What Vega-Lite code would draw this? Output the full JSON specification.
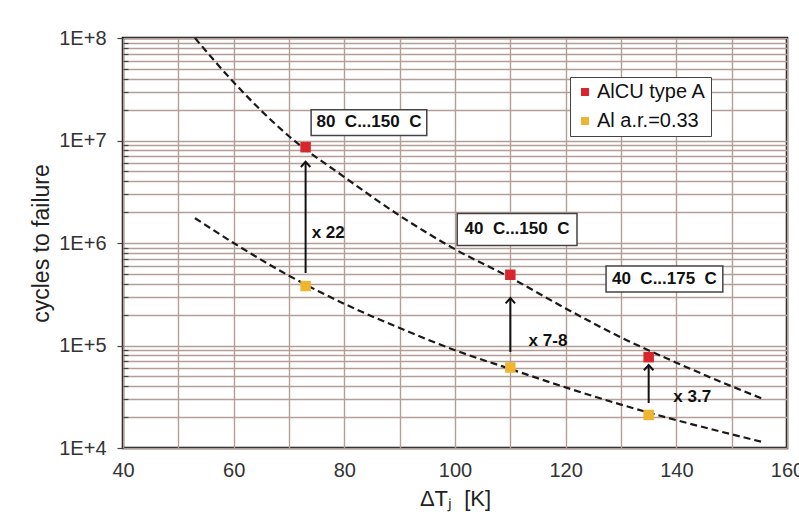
{
  "$schema": "https://vega.github.io/schema/vega-lite/v6.json",
  "width": 664,
  "height": 410,
  "autosize": {"type": "none"},
  "padding": {"left": 123, "top": 38, "right": 12, "bottom": 80},
  "background": "white",
  "datasets": {
    "curves": [
      {"curve": "upper", "dT": 53, "N": 100000000},
      {"curve": "upper", "dT": 60, "N": 37000000},
      {"curve": "upper", "dT": 70, "N": 11000000},
      {"curve": "upper", "dT": 80, "N": 4400000},
      {"curve": "upper", "dT": 90, "N": 1850000},
      {"curve": "upper", "dT": 100, "N": 870000},
      {"curve": "upper", "dT": 110, "N": 460000},
      {"curve": "upper", "dT": 120, "N": 230000},
      {"curve": "upper", "dT": 130, "N": 120000},
      {"curve": "upper", "dT": 140, "N": 68000},
      {"curve": "upper", "dT": 150, "N": 40000},
      {"curve": "upper", "dT": 155.4, "N": 30500},
      {"curve": "lower", "dT": 53, "N": 1750000},
      {"curve": "lower", "dT": 60, "N": 1000000},
      {"curve": "lower", "dT": 70, "N": 480000},
      {"curve": "lower", "dT": 80, "N": 255000},
      {"curve": "lower", "dT": 90, "N": 148000},
      {"curve": "lower", "dT": 100, "N": 90000},
      {"curve": "lower", "dT": 110, "N": 59000},
      {"curve": "lower", "dT": 120, "N": 39000},
      {"curve": "lower", "dT": 130, "N": 26500},
      {"curve": "lower", "dT": 140, "N": 18700},
      {"curve": "lower", "dT": 150, "N": 13600},
      {"curve": "lower", "dT": 155.4, "N": 11500}
    ],
    "points": [
      {"series": "AlCU type A", "dT": 73, "N": 8600000},
      {"series": "AlCU type A", "dT": 110, "N": 490000},
      {"series": "AlCU type A", "dT": 135, "N": 77000},
      {"series": "Al a.r.=0.33", "dT": 73, "N": 380000},
      {"series": "Al a.r.=0.33", "dT": 110, "N": 61000},
      {"series": "Al a.r.=0.33", "dT": 135, "N": 21000}
    ],
    "boxes": [
      {"dT": 74.0, "dT2": 94.9, "N": 11200000, "N2": 20000000},
      {"dT": 100.4, "dT2": 122.05, "N": 945000, "N2": 1940000},
      {"dT": 127.3, "dT2": 148.4, "N": 333000, "N2": 597000}
    ],
    "boxlabels": [
      {"label": "80\u00a0\u00a0C...150\u00a0\u00a0C", "dT": 84.45, "N": 15000000},
      {"label": "40\u00a0\u00a0C...150\u00a0\u00a0C", "dT": 111.2, "N": 1355000},
      {"label": "40\u00a0\u00a0C...175\u00a0\u00a0C", "dT": 137.85, "N": 446000}
    ],
    "arrows": [
      {"dT": 73, "N": 510000, "N2": 6200000},
      {"dT": 110, "N": 86500, "N2": 290000},
      {"dT": 135, "N": 27500, "N2": 64500}
    ],
    "heads": [
      {"dT": 73, "N": 6200000},
      {"dT": 110, "N": 290000},
      {"dT": 135, "N": 64500}
    ],
    "factors": [
      {"label": "x 22", "dT": 74.1, "N": 1250000},
      {"label": "x 7-8", "dT": 113.3, "N": 111000},
      {"label": "x 3.7", "dT": 139.45, "N": 31600}
    ]
  },
  "encoding": {
    "x": {
      "field": "dT",
      "type": "quantitative",
      "title": "ΔTⱼ\u00a0\u00a0[K]",
      "scale": {"domain": [40, 160], "nice": false, "zero": false},
      "axis": {
        "values": [40, 50, 60, 70, 80, 90, 100, 110, 120, 130, 140, 150, 160],
        "labelExpr": "datum.value % 20 == 0 ? datum.value : ''",
        "grid": true,
        "gridColor": "#b39f98",
        "gridWidth": 1.4,
        "gridOpacity": 1,
        "domain": false,
        "ticks": false,
        "labelPadding": 12,
        "labelFontSize": 20,
        "labelColor": "#333",
        "labelOverlap": false,
        "labelBound": false,
        "labelFlush": false,
        "titleFontSize": 22,
        "titleFontWeight": "normal",
        "titleColor": "#222",
        "titlePadding": 8
      }
    },
    "y": {
      "field": "N",
      "type": "quantitative",
      "title": "cycles to failure",
      "scale": {"type": "log", "domain": [10000, 100000000], "nice": false},
      "axis": {
        "values": [10000, 20000, 30000, 40000, 50000, 60000, 70000, 80000, 90000,
                   100000, 200000, 300000, 400000, 500000, 600000, 700000, 800000, 900000,
                   1000000, 2000000, 3000000, 4000000, 5000000, 6000000, 7000000, 8000000, 9000000,
                   10000000, 20000000, 30000000, 40000000, 50000000, 60000000, 70000000, 80000000, 90000000,
                   100000000],
        "labelExpr": "datum.value == 10000 ? '1E+4' : datum.value == 100000 ? '1E+5' : datum.value == 1000000 ? '1E+6' : datum.value == 10000000 ? '1E+7' : datum.value == 100000000 ? '1E+8' : ''",
        "grid": true,
        "gridColor": "#b39f98",
        "gridWidth": 1.4,
        "gridOpacity": 1,
        "domain": false,
        "tickColor": "#444",
        "tickWidth": 1.2,
        "tickSize": {"condition": {"test": "indexof([10000,100000,1000000,10000000,100000000], datum.value) >= 0", "value": 6}, "value": -5},
        "labelPadding": 11,
        "labelFontSize": 20,
        "labelColor": "#333",
        "labelOverlap": false,
        "labelBound": false,
        "labelFlush": false,
        "titleFontSize": 23,
        "titleFontWeight": "normal",
        "titleColor": "#222",
        "titlePadding": 5
      }
    }
  },
  "layer": [
    {
      "data": {"name": "curves"},
      "mark": {"type": "line", "interpolate": "monotone", "color": "#1a1a1a", "strokeWidth": 2.2, "strokeDash": [7, 4]},
      "encoding": {"detail": {"field": "curve", "type": "nominal"}}
    },
    {
      "data": {"name": "boxes"},
      "mark": {"type": "rect", "fill": "white", "stroke": "#444", "strokeWidth": 1.5},
      "encoding": {
        "x2": {"field": "dT2"},
        "y2": {"field": "N2"}
      }
    },
    {
      "data": {"name": "boxlabels"},
      "mark": {"type": "text", "fontSize": 17, "fontWeight": "bold", "color": "#111", "align": "center", "baseline": "middle"},
      "encoding": {"text": {"field": "label"}}
    },
    {
      "data": {"name": "arrows"},
      "mark": {"type": "rule", "color": "#111", "strokeWidth": 2},
      "encoding": {"y2": {"field": "N2"}}
    },
    {
      "data": {"name": "heads"},
      "mark": {"type": "point", "shape": "M-1,1.1L0,0L1,1.1", "size": 90, "filled": false, "stroke": "#111", "strokeWidth": 2, "opacity": 1}
    },
    {
      "data": {"name": "factors"},
      "mark": {"type": "text", "fontSize": 17, "fontWeight": "bold", "color": "#111", "align": "left", "baseline": "middle"},
      "encoding": {"text": {"field": "label"}}
    },
    {
      "data": {"name": "points"},
      "mark": {"type": "point", "shape": "square", "filled": true, "size": 110, "opacity": 1},
      "encoding": {
        "color": {
          "field": "series",
          "type": "nominal",
          "scale": {"domain": ["AlCU type A", "Al a.r.=0.33"], "range": ["#d9252e", "#eeb530"]},
          "legend": {
            "title": null,
            "orient": "none",
            "legendX": 447,
            "legendY": 39,
            "strokeColor": "#444",
            "fillColor": "white",
            "padding": 5,
            "labelFontSize": 20,
            "labelColor": "#111",
            "symbolType": "square",
            "symbolSize": 64,
            "symbolStrokeWidth": 0,
            "rowPadding": 9,
            "labelOffset": 2
          }
        }
      }
    }
  ],
  "config": {
    "font": "Liberation Sans",
    "view": {"stroke": "#111", "strokeWidth": 2.5, "fill": "white"}
  }
}
